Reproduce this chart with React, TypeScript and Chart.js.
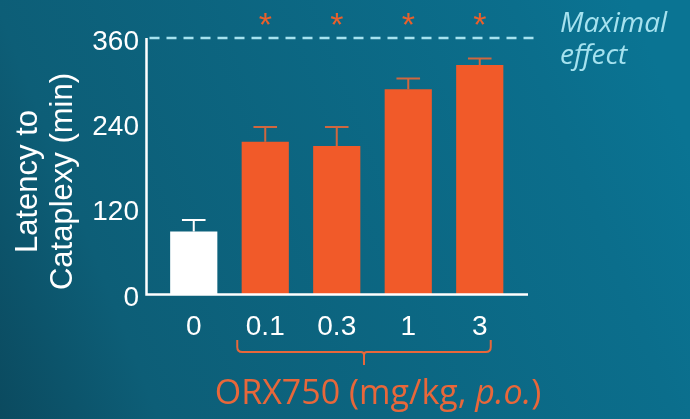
import React, { useEffect, useRef } from "react";
import { Chart, registerables } from "chart.js";

Chart.register(...registerables);

// ---- data ----
const doses = ["0", "0.1", "0.3", "1", "3"];
const latency = [88, 214, 208, 288, 322];
const sem = [16, 21, 27, 15, 9];
const significant = [false, true, true, true, true];
const yTicks = [0, 120, 240, 360];
const maxEffect = 360;
const yTitleLines = ["Latency to", "Cataplexy (min)"];
const xTitleParts = [
  { text: "ORX750 (mg/kg, ", italic: false },
  { text: "p.o.", italic: true },
  { text: ")", italic: false },
];
const maxEffectLines = ["Maximal", "effect"];

// ---- style ----
const ORANGE = "#f15a29";
const ORANGE_TEXT = "#e8673a";
const ORANGE_ERR = "#d0673f";
const CYAN = "#a6e2ef";
const SANS = "'Liberation Sans', Arial, sans-serif";
const OPEN = "'Open Sans', sans-serif";

const overlay = {
  id: "overlay",
  beforeDraw(chart: any) {
    const { ctx, width, height } = chart;
    const g = ctx.createLinearGradient(0, height, width, 150);
    g.addColorStop(0, "rgb(11,74,95)");
    g.addColorStop(0.2, "rgb(13,94,119)");
    g.addColorStop(0.85, "rgb(11,110,140)");
    g.addColorStop(1, "rgb(10,116,147)");
    ctx.save();
    ctx.fillStyle = g;
    ctx.fillRect(0, 0, width, height);
    ctx.restore();
  },
  afterDatasetsDraw(chart: any) {
    const { ctx, chartArea } = chart;
    const xs = chart.scales.x;
    const ys = chart.scales.y;
    const meta = chart.getDatasetMeta(0);
    ctx.save();

    // error bars
    latency.forEach((v, i) => {
      const bar = meta.data[i];
      const cx = xs.getPixelForValue(i);
      const yTop = ys.getPixelForValue(v);
      const yErr = ys.getPixelForValue(v + sem[i]);
      const half = bar.width * 0.25;
      ctx.strokeStyle = i === 0 ? "#ffffff" : ORANGE_ERR;
      ctx.lineWidth = 2;
      ctx.beginPath();
      ctx.moveTo(cx, yTop);
      ctx.lineTo(cx, yErr);
      ctx.moveTo(cx - half, yErr);
      ctx.lineTo(cx + half, yErr);
      ctx.stroke();
    });

    // axes
    const axL = chartArea.left - 11.5;
    const axR = chartArea.right + 12.5;
    ctx.strokeStyle = "#ffffff";
    ctx.lineWidth = 2.5;
    ctx.beginPath();
    ctx.moveTo(axL, ys.getPixelForValue(maxEffect));
    ctx.lineTo(axL, chartArea.bottom + 0.5);
    ctx.lineTo(axR, chartArea.bottom + 0.5);
    ctx.stroke();

    // maximal effect dashed line
    const yMax = ys.getPixelForValue(maxEffect);
    ctx.strokeStyle = CYAN;
    ctx.lineWidth = 2.5;
    ctx.setLineDash([10, 7]);
    ctx.beginPath();
    ctx.moveTo(axL + 3, yMax);
    ctx.lineTo(540, yMax);
    ctx.stroke();
    ctx.setLineDash([]);

    // maximal effect label
    ctx.fillStyle = CYAN;
    ctx.font = `italic 28px ${OPEN}`;
    ctx.textAlign = "left";
    ctx.textBaseline = "alphabetic";
    ctx.fillText(maxEffectLines[0], 560, 32);
    ctx.fillText(maxEffectLines[1], 560, 64);

    // asterisks
    ctx.fillStyle = "#e8602c";
    ctx.font = `34px ${SANS}`;
    ctx.textAlign = "center";
    significant.forEach((s, i) => {
      if (!s) return;
      ctx.fillText("*", xs.getPixelForValue(i), 36);
    });

    // y title
    ctx.fillStyle = "#ffffff";
    ctx.font = `31px ${SANS}`;
    ctx.textAlign = "center";
    const cy = 181.5;
    const baseX = [37, 72];
    yTitleLines.forEach((t, k) => {
      ctx.save();
      ctx.translate(baseX[k], cy);
      ctx.rotate(-Math.PI / 2);
      ctx.fillText(t, 0, 0);
      ctx.restore();
    });

    // bracket
    const bl = xs.getPixelForValue(1) - 28;
    const br = xs.getPixelForValue(doses.length - 1) + 11;
    const by0 = 340;
    const by1 = 352;
    const mid = (bl + br) / 2;
    const r = 5;
    ctx.strokeStyle = ORANGE_TEXT;
    ctx.lineWidth = 2;
    ctx.beginPath();
    ctx.moveTo(bl, by0);
    ctx.lineTo(bl, by1 - r);
    ctx.quadraticCurveTo(bl, by1, bl + r, by1);
    ctx.lineTo(mid - 3, by1);
    ctx.quadraticCurveTo(mid, by1, mid, by1 + 3);
    ctx.lineTo(mid, 365);
    ctx.moveTo(mid, by1 + 3);
    ctx.quadraticCurveTo(mid, by1, mid + 3, by1);
    ctx.lineTo(br - r, by1);
    ctx.quadraticCurveTo(br, by1, br, by1 - r);
    ctx.lineTo(br, by0);
    ctx.stroke();

    // x title
    ctx.fillStyle = ORANGE_TEXT;
    ctx.textAlign = "left";
    const fonts = xTitleParts.map((p) => `${p.italic ? "italic " : ""}34px ${OPEN}`);
    let total = 0;
    const widths = xTitleParts.map((p, k) => {
      ctx.font = fonts[k];
      const w = ctx.measureText(p.text).width;
      total += w;
      return w;
    });
    let x = 378 - total / 2;
    xTitleParts.forEach((p, k) => {
      ctx.font = fonts[k];
      ctx.fillText(p.text, x, 404);
      x += widths[k];
    });

    ctx.restore();
  },
};

export default function App() {
  const ref = useRef<HTMLCanvasElement | null>(null);
  useEffect(() => {
    if (!ref.current) return;
    const chart = new Chart(ref.current, {
      type: "bar",
      data: {
        labels: doses,
        datasets: [
          {
            data: latency,
            backgroundColor: doses.map((_, i) => (i === 0 ? "#ffffff" : ORANGE)),
            borderWidth: 0,
            barPercentage: 0.66,
            categoryPercentage: 1,
          },
        ],
      },
      options: {
        animation: false,
        responsive: false,
        maintainAspectRatio: false,
        layout: { padding: { top: 38, right: 174.5, left: 0, bottom: 0 } },
        plugins: {
          legend: { display: false },
          tooltip: { enabled: false },
          title: { display: false },
        },
        scales: {
          x: {
            grid: { display: false, drawTicks: false },
            border: { display: false },
            ticks: {
              color: "#ffffff",
              font: { family: SANS, size: 28 },
              padding: 16,
              maxRotation: 0,
              autoSkip: false,
            },
            afterFit: (s: any) => {
              s.height = 125;
            },
          },
          y: {
            min: 0,
            max: maxEffect,
            grid: { display: false, drawTicks: false },
            border: { display: false },
            ticks: {
              color: "#ffffff",
              font: { family: SANS, size: 28 },
              padding: 19,
              labelOffset: 4,
            },
            afterBuildTicks: (s: any) => {
              s.ticks = yTicks.map((v) => ({ value: v }));
            },
            afterFit: (s: any) => {
              s.width = 158;
            },
          },
        },
      },
      plugins: [overlay],
    });
    return () => chart.destroy();
  }, []);
  return (
    <div style={{ position: "absolute", left: 0, top: 0, width: 690, height: 419 }}>
      <canvas ref={ref} width={690} height={419} style={{ display: "block" }} />
    </div>
  );
}
